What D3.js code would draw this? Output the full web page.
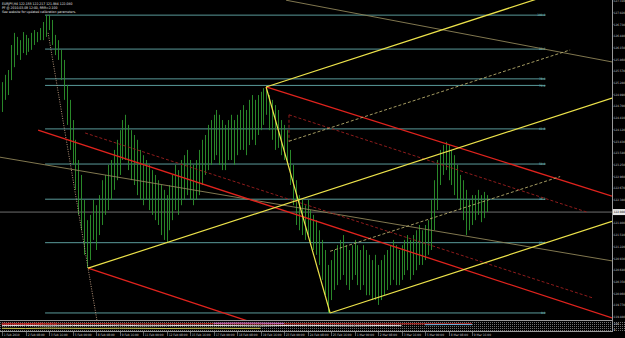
<!DOCTYPE html>
<html>
<head>
<meta charset="utf-8">
<script src="https://cdn.jsdelivr.net/npm/d3@7"></script>
<style>
  body { margin: 0; background: #000; }
  svg { display: block; }
  text { font-family: "DejaVu Sans Condensed", "Liberation Sans Narrow", "DejaVu Sans", sans-serif; }
</style>
</head>
<body>
<svg id="chart" width="625" height="338"></svg>
<script>
// EURJPY H4 bars (high / low per bar)
const highs = [
  125.30,125.48,125.60,126.22,126.52,126.42,126.34,126.54,126.47,126.39,
  126.52,126.59,126.54,126.64,126.79,126.96,126.96,126.84,126.47,126.34,
  126.10,125.85,125.23,124.86,124.36,123.87,123.37,123.00,122.38,121.88,
  122.01,122.38,122.25,122.50,122.87,123.00,123.25,123.37,123.62,123.87,
  124.11,124.36,124.49,124.24,124.11,123.99,123.87,123.62,123.49,123.37,
  123.25,123.12,123.00,122.87,122.75,122.63,122.50,122.75,123.00,123.25,
  123.12,123.37,123.49,123.62,123.37,123.25,123.37,123.62,123.87,123.99,
  124.24,124.36,124.49,124.61,124.49,124.36,124.24,124.36,124.49,124.36,
  124.49,124.61,124.73,124.61,124.86,124.98,124.86,124.98,125.06,125.15,
  125.18,124.98,124.86,124.73,124.61,124.36,124.24,124.11,123.62,123.25,
  122.87,122.50,122.38,122.25,122.38,122.13,122.01,121.88,121.63,121.39,
  121.14,120.77,120.89,121.14,121.26,121.39,121.51,121.26,121.14,121.26,
  121.39,121.26,121.14,121.26,121.14,121.02,120.89,121.02,120.77,120.89,
  121.02,121.14,121.26,121.39,121.26,121.14,121.26,121.39,121.51,121.39,
  121.51,121.63,121.76,121.63,121.76,121.88,122.38,122.87,123.37,123.62,
  123.74,123.82,123.74,123.62,123.49,123.25,123.00,122.87,122.63,122.38,
  122.50,122.50,122.63,122.50,122.58,122.50
];
const lows = [
  124.56,124.86,124.98,125.35,125.67,125.97,125.85,126.02,125.97,126.05,
  126.10,126.22,126.29,126.34,126.34,126.42,126.59,126.22,125.97,125.85,
  125.35,124.86,124.24,123.62,123.25,122.63,122.01,121.63,121.02,120.69,
  120.89,121.39,121.14,121.51,121.76,122.01,122.13,122.38,122.63,122.87,
  123.00,123.37,123.37,123.12,122.87,122.75,122.50,122.38,122.25,122.38,
  122.13,122.01,121.88,121.76,121.51,121.39,121.34,121.63,121.88,122.13,
  122.01,122.25,122.38,122.50,122.38,122.25,122.38,122.50,122.75,123.00,
  123.12,123.25,123.37,123.49,123.25,123.12,123.12,123.37,123.37,123.25,
  123.49,123.62,123.62,123.49,123.74,123.87,123.74,123.99,124.11,124.24,
  124.49,124.11,123.87,123.62,123.67,123.49,123.37,123.25,122.75,122.25,
  121.76,121.63,121.51,121.39,121.51,121.26,121.14,121.02,120.77,120.40,
  120.02,119.58,119.90,120.15,120.27,120.40,120.52,120.27,120.15,120.40,
  120.52,120.27,120.15,120.27,120.02,120.02,119.90,119.90,119.78,119.90,
  120.02,120.15,120.27,120.40,120.27,120.27,120.40,120.52,120.64,120.40,
  120.52,120.64,120.77,120.77,120.89,121.02,121.14,121.63,122.13,122.75,
  123.00,123.12,122.87,122.75,122.50,122.38,122.13,121.88,121.51,121.63,
  121.76,121.88,122.01,121.83,121.93,122.08
];
const lastPrice = 122.080;

const priceTicks = [
  127.310,127.020,126.730,126.440,126.150,125.860,125.570,125.280,124.990,124.700,
  124.410,124.120,123.830,123.540,123.250,122.960,122.670,122.380,122.090,121.800,
  121.510,121.220,120.930,120.640,120.350,120.060,119.770,119.480
];
const timeLabels = [
  "1 Feb 2010","2 Feb 08:00","3 Feb 16:00","5 Feb 00:00","8 Feb 08:00","9 Feb 16:00",
  "11 Feb 00:00","12 Feb 08:00","15 Feb 16:00","17 Feb 00:00","18 Feb 08:00","19 Feb 16:00",
  "23 Feb 00:00","24 Feb 08:00","25 Feb 16:00","1 Mar 00:00","2 Mar 08:00","3 Mar 16:00",
  "5 Mar 00:00","8 Mar 08:00","9 Mar 16:00"
];
const timeLabelStep = 8;

// Fibonacci retracement: [bar, price] of the 100 and 0 ends
const fiboStart = [15, 126.96];
const fiboEnd = [185, 119.58];
const fiboLevels = [0, 23.6, 38.2, 50, 61.8, 76.4, 78.6, 88.6, 100];

// Andrews pitchfork (yellow): pivots as [bar, price]
const forkPivots = [[29.3, 120.69], [89.9, 125.18], [111.7, 119.58]];
const forkHalfSpans = [[97.7, 193.4], [111.7, 190]];

// Red channel lines, [[bar, price], [bar, price], ray]
const redLines = [
  [[89.9, 125.18], [150, 123.80], true],
  [[12.3, 124.11], [150, 120.83], true],
  [[29.3, 120.69], [80, 119.47], true]
];
const redDashed = [
  [[97.7, 124.49], [199.1, 122.08]],
  [[28.3, 124.04], [201.2, 119.95]],
  [[97.7, 124.49], [97.7, 123.82]]
];
const tanLines = [
  [[-0.7, 123.44], [207.7, 120.87]],
  [[96.7, 127.33], [207.7, 125.80]]
];
const zigzag = [[15.7, 126.52], [29.3, 120.69]];

// lower indicator window, sampled every 8 bars
const indBars = [0,8,16,24,32,40,48,56,64,72,80,88,96,104,112,120,128,136,144,152,160];
const indRed = [78,80,79,80,81,80,79,80,80,81,80,79,80,80,81,80,79,80,80,79,80];
const indWhite = [60,62,58,61,60,63,59,60,62,61,60,58,61,62,60,59,61,60,null,null,null];
const indYellow = [30,28,32,30,29,31,30,28,30,31,29,30,null,null,null,null,null,null,null,null,null];
const indMagenta = [null,null,null,null,null,null,null,null,null,86,88,87,85,null,null,null,null,null,null,null,null];
const indCyan = [null,null,null,null,null,null,null,null,null,null,null,null,null,null,null,null,null,null,70,72,71];

const W = 625, H = 338;
const plot = { left: 0, right: 612, top: 0, bottom: 320 };
const panel = { top: 322, bottom: 331 };
const FS = 3.2;

const svg = d3.select("#chart");
svg.append("rect").attr("width", W).attr("height", H).attr("fill", "#000");

const x = d3.scaleLinear().domain([0, 160]).range([2, 472]);
const y = d3.scaleLinear().domain([119.48, 127.31]).range([317, 1]);
const endBar = x.invert(plot.right);

svg.append("clipPath").attr("id", "clip")
  .append("rect").attr("x", 0).attr("y", 0)
  .attr("width", plot.right).attr("height", plot.bottom);

const g = svg.append("g").attr("clip-path", "url(#clip)");

// current price line
g.append("line")
  .attr("x1", 0).attr("x2", plot.right)
  .attr("y1", y(lastPrice)).attr("y2", y(lastPrice))
  .attr("stroke", "#8a8a8a").attr("stroke-width", 0.8);

// fibo levels
const fiboG = g.append("g");
fiboLevels.forEach(lv => {
  const p = fiboEnd[1] + (fiboStart[1] - fiboEnd[1]) * lv / 100;
  fiboG.append("line")
    .attr("x1", x(fiboStart[0]) - 1).attr("x2", x(fiboEnd[0]))
    .attr("y1", y(p)).attr("y2", y(p))
    .attr("stroke", "#64abab").attr("stroke-width", 0.9);
  fiboG.append("text")
    .attr("x", x(fiboEnd[0])).attr("y", y(p) + 1.2)
    .attr("text-anchor", "end")
    .attr("font-size", FS).attr("fill", "#7cc4c4")
    .text(lv.toFixed(1));
});

// bars
g.append("g").selectAll("line")
  .data(highs.map((h, i) => ({ i, h, l: lows[i] })))
  .join("line")
  .attr("x1", d => Math.round(x(d.i)) + 0.5)
  .attr("x2", d => Math.round(x(d.i)) + 0.5)
  .attr("y1", d => y(d.h)).attr("y2", d => y(d.l))
  .attr("stroke", "#2e962e").attr("stroke-width", 0.9);

const seg = (a, b, ray) => {
  if (!ray) return [a, b];
  const s = (b[1] - a[1]) / (b[0] - a[0]);
  return [a, [endBar, a[1] + s * (endBar - a[0])]];
};
const drawLine = (pts, color, width, dash) => {
  g.append("line")
    .attr("x1", x(pts[0][0])).attr("y1", y(pts[0][1]))
    .attr("x2", x(pts[1][0])).attr("y2", y(pts[1][1]))
    .attr("stroke", color).attr("stroke-width", width)
    .attr("stroke-dasharray", dash || null);
};

// tan trendlines
tanLines.forEach(l => drawLine(l, "#8f8458", 0.9));

// zigzag, dotted, runs past the low to the chart bottom
{
  const s = (zigzag[1][1] - zigzag[0][1]) / (zigzag[1][0] - zigzag[0][0]);
  const b = zigzag[0][0] + (y.invert(plot.bottom) - zigzag[0][1]) / s;
  drawLine([zigzag[0], [b, y.invert(plot.bottom)]], "#c8a487", 0.9, "1,1.4");
}

// red lines
redDashed.forEach(l => drawLine(l, "#8e1c1c", 1, "3,2"));
redLines.forEach(l => drawLine(seg(l[0], l[1], l[2]), "#e0231d", 1.3));

// yellow pitchfork
{
  const [p1, p2, p3] = forkPivots;
  const mid = [(p2[0] + p3[0]) / 2, (p2[1] + p3[1]) / 2];
  const s = (mid[1] - p1[1]) / (mid[0] - p1[0]);
  const at = (p, b) => p[1] + s * (b - p[0]);
  const halfUp = b => (at(p1, b) + at(p2, b)) / 2;
  const halfDn = b => (at(p1, b) + at(p3, b)) / 2;
  const [u0, u1] = forkHalfSpans[0], [d0, d1] = forkHalfSpans[1];
  drawLine([[u0, halfUp(u0)], [u1, halfUp(u1)]], "#b6ab6c", 0.9, "3,2");
  drawLine([[d0, halfDn(d0)], [d1, halfDn(d1)]], "#b6ab6c", 0.9, "3,2");
  [p1, p2, p3].forEach(p => drawLine([p, [endBar, at(p, endBar)]], "#ece24a", 1.2));
  drawLine([p2, p3], "#ece24a", 1.2);
}

// header text
const header = [
  "EURJPY,H4  122.155 122.217 121.984 122.080",
  "PF @ 2010.03.09 12:00, RRR=2.100",
  "See website for updated calibration parameters."
];
svg.append("g").selectAll("text").data(header).join("text")
  .attr("x", 2).attr("y", (d, i) => 5 + i * 4.2)
  .attr("font-size", 3.4).attr("fill", "#e6e6e6")
  .text(d => d);

// frame
svg.append("line").attr("x1", plot.right + 0.5).attr("x2", plot.right + 0.5)
  .attr("y1", 0).attr("y2", panel.bottom + 1).attr("stroke", "#9a9a9a");
svg.append("line").attr("x1", 0).attr("x2", plot.right)
  .attr("y1", plot.bottom + 0.5).attr("y2", plot.bottom + 0.5).attr("stroke", "#9a9a9a");
svg.append("line").attr("x1", 0).attr("x2", plot.right)
  .attr("y1", panel.bottom + 0.5).attr("y2", panel.bottom + 0.5).attr("stroke", "#9a9a9a");

// price axis
const axisG = svg.append("g");
priceTicks.forEach(t => {
  axisG.append("line").attr("x1", plot.right).attr("x2", plot.right + 1.5)
    .attr("y1", y(t)).attr("y2", y(t)).attr("stroke", "#9a9a9a").attr("stroke-width", 0.6);
  axisG.append("text").attr("x", plot.right + 1.8).attr("y", y(t) + 1.1)
    .attr("font-size", 3.0).attr("fill", "#c8c8c8").text(t.toFixed(3));
});
axisG.append("rect").attr("x", plot.right + 1).attr("y", y(lastPrice) - 3)
  .attr("width", 12).attr("height", 6).attr("fill", "#e8e8e8");
axisG.append("text").attr("x", plot.right + 1.8).attr("y", y(lastPrice) + 1.1)
  .attr("font-size", 3.0).attr("fill", "#000").text(lastPrice.toFixed(3));

// indicator window
const defs = svg.append("defs");
const pat = defs.append("pattern").attr("id", "dots").attr("width", 2).attr("height", 2)
  .attr("patternUnits", "userSpaceOnUse");
pat.append("rect").attr("width", 1).attr("height", 1).attr("fill", "#6e6e6e");
svg.append("rect").attr("x", 0).attr("y", panel.top)
  .attr("width", plot.right).attr("height", panel.bottom - panel.top).attr("fill", "url(#dots)");
const iy = d3.scaleLinear().domain([0, 100]).range([panel.bottom, panel.top]);
const indLine = d3.line().defined(d => d != null).x((d, i) => x(indBars[i])).y(d => iy(d));
[[indWhite, "#dcdcdc"], [indYellow, "#c8c04a"], [indRed, "#e0302a"],
 [indMagenta, "#d070d0"], [indCyan, "#6cb4e0"]].forEach(([s, c]) => {
  svg.append("path").attr("d", indLine(s)).attr("fill", "none")
    .attr("stroke", c).attr("stroke-width", 1);
});
svg.append("text").attr("x", 1).attr("y", panel.top + 2.6)
  .attr("font-size", FS).attr("fill", "#ff4040").text("USDJPY,H4 Correlation(EURJPY) 0.8512");
svg.append("rect").attr("x", plot.right + 1).attr("y", panel.top)
  .attr("width", 12).attr("height", panel.bottom - panel.top).attr("fill", "url(#dots)");
svg.append("text").attr("x", plot.right + 1.8).attr("y", panel.top + 3)
  .attr("font-size", 3.0).attr("fill", "#d0d0d0").text("100");
svg.append("text").attr("x", plot.right + 1.8).attr("y", panel.bottom - 0.5)
  .attr("font-size", 3.0).attr("fill", "#d0d0d0").text("0");

// time axis
const tG = svg.append("g");
timeLabels.forEach((t, k) => {
  const xx = Math.round(x(k * timeLabelStep)) + 0.5;
  tG.append("line").attr("x1", xx).attr("x2", xx)
    .attr("y1", panel.bottom + 1).attr("y2", panel.bottom + 5)
    .attr("stroke", "#9a9a9a").attr("stroke-width", 0.6);
  tG.append("text").attr("x", xx + 1.2).attr("y", panel.bottom + 5)
    .attr("font-size", FS).attr("fill", "#c8c8c8").text(t);
});
</script>
</body>
</html>
